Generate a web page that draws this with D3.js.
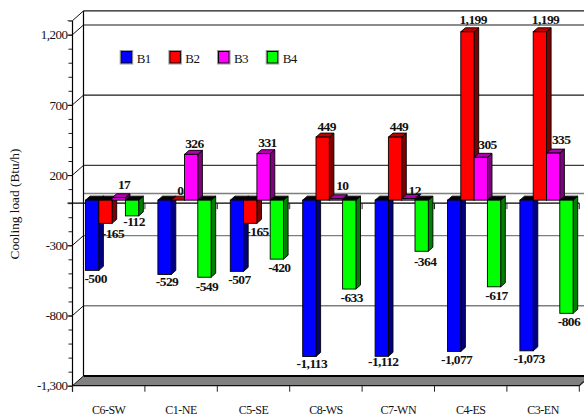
<!DOCTYPE html>
<html>
<head>
<meta charset="utf-8">
<script src="https://cdn.jsdelivr.net/npm/d3@7"></script>
<style>
  html, body { margin: 0; padding: 0; background: #fff; overflow: hidden; }
  svg { display: block; }
  text { font-family: "Liberation Serif", "Times New Roman", serif; fill: #111; }
</style>
</head>
<body>
<svg id="chart" width="584" height="417"></svg>
<script>
// Cooling load by building case and orientation
const categories = ["C6-SW", "C1-NE", "C5-SE", "C8-WS", "C7-WN", "C4-ES", "C3-EN"];
const seriesNames = ["B1", "B2", "B3", "B4"];
const b1 = [-500, -529, -507, -1113, -1112, -1077, -1073];
const b2 = [-165, 0, -165, 449, 449, 1199, 1199];
const b3 = [17, 326, 331, 10, 12, 305, 335];
const b4 = [-112, -549, -420, -633, -364, -617, -806];
const seriesValues = [b1, b2, b3, b4];
const yMajorTicks = [-1300, -800, -300, 200, 700, 1200];
const yMinorTicks = d3.range(-1300, 1301, 100);

const frontColors = ["#0000ff", "#ff0000", "#ff00ff", "#00ff00"];
const sideColors = ["#000080", "#800000", "#800080", "#008000"];
const capColors = ["#0000b0", "#c00000", "#b000b0", "#00b000"];

// Oblique projection of the chart box
const wallDx = 11, wallDy = -9.7;
const frontLeft = 72.5, frontRight = 579.3;
const barLift = 3, groupInset = 13, groupWidth = 53.2;
const barDepthX = 4.6, barDepthY = 4;

const svg = d3.select("#chart");
const y = d3.scaleLinear().domain([-1300, 1300]).range([385.7, 20.6]);
const x = d3.scaleBand().domain(categories).range([frontLeft, frontRight]);
const xBar = d3.scaleBand().domain(seriesNames).range([0, groupWidth]);
// Plain hyphen for negatives, thousands separated by commas
const fmt = d3.formatLocale({ decimal: ".", thousands: ",", grouping: [3], currency: ["", ""], minus: "-" }).format(",");

// Back wall grid lines, darker above the zero plane
const gridColor = v => v >= 700 ? "#1a1a1a" : v === 200 ? "#3c3c3c" : "#7e7e7e";
const gridWidth = v => v > 0 ? 1.1 : 1.4;
svg.append("g").selectAll("line")
  .data(yMajorTicks.filter(v => v > -1300).concat([1300, 0]))
  .join("line")
  .attr("x1", frontLeft + wallDx).attr("x2", 584)
  .attr("y1", d => y(d) + wallDy).attr("y2", d => y(d) + wallDy)
  .attr("stroke", gridColor)
  .attr("stroke-width", gridWidth);

// Floor
const floorBackY = y(-1300) + wallDy;
svg.append("path")
  .attr("d", `M${frontLeft},${y(-1300)}L${frontLeft + wallDx},${floorBackY}L590,${floorBackY}L${frontRight},${y(-1300)}Z`)
  .attr("fill", "#808080");
svg.append("line")
  .attr("x1", frontLeft + wallDx).attr("x2", 584)
  .attr("y1", floorBackY).attr("y2", floorBackY)
  .attr("stroke", "#000").attr("stroke-width", 2);
svg.append("path")
  .attr("d", `M${frontLeft},${y(-1300)}L${frontRight},${y(-1300)}L584,${y(-1300) - 4.2}`)
  .attr("fill", "none").attr("stroke", "#111").attr("stroke-width", 1.2);

// Left side wall
svg.append("line")
  .attr("x1", frontLeft + wallDx).attr("x2", frontLeft + wallDx)
  .attr("y1", y(1300) + wallDy).attr("y2", floorBackY)
  .attr("stroke", "#000").attr("stroke-width", 1.2);
svg.append("g").selectAll("line")
  .data(yMajorTicks.concat([1300]))
  .join("line")
  .attr("x1", frontLeft).attr("x2", frontLeft + wallDx)
  .attr("y1", d => y(d)).attr("y2", d => y(d) + wallDy)
  .attr("stroke", "#111").attr("stroke-width", 1);

// Zero line with its short category ticks
svg.append("line")
  .attr("x1", frontLeft - 5).attr("x2", frontRight)
  .attr("y1", y(0)).attr("y2", y(0))
  .attr("stroke", "#000").attr("stroke-width", 1.2);
const boundaries = categories.map(c => x(c)).concat([frontRight]);
svg.append("g").selectAll("line")
  .data(boundaries.slice(1))
  .join("line")
  .attr("x1", d => d).attr("x2", d => d)
  .attr("y1", y(0)).attr("y2", y(0) + 6)
  .attr("stroke", "#222").attr("stroke-width", 1);
svg.append("g").selectAll("line")
  .data(boundaries.slice(1))
  .join("line")
  .attr("x1", d => d - 1).attr("x2", d => d - 1)
  .attr("y1", y(0) + 1).attr("y2", y(0) + 6)
  .attr("stroke", "#aaa").attr("stroke-width", 1);

// Front axis drawn through d3.axisLeft, major ticks longer than minor ones
const axisY = svg.append("g").attr("transform", `translate(${frontLeft},0)`)
  .call(d3.axisLeft(y).tickValues(yMinorTicks).tickSize(4).tickFormat(""));
axisY.selectAll("line").attr("stroke", "#222");
axisY.select(".domain").remove();
svg.append("g").attr("transform", `translate(${frontLeft},0)`)
  .call(d3.axisLeft(y).tickValues(yMajorTicks).tickSize(5).tickPadding(0).tickFormat(fmt))
  .call(g => g.select(".domain").remove())
  .call(g => g.selectAll("line").attr("stroke", "#111"))
  .call(g => g.selectAll("text")
    .attr("font-family", null).attr("font-size", 13).attr("letter-spacing", -0.5)
    .attr("fill", "#111").attr("dy", "0.32em"));
svg.append("line")
  .attr("x1", frontLeft).attr("x2", frontLeft)
  .attr("y1", y(1300)).attr("y2", y(-1300) + 6)
  .attr("stroke", "#000").attr("stroke-width", 1.2);
svg.append("line")
  .attr("x1", frontLeft - 5).attr("x2", frontLeft)
  .attr("y1", y(1300)).attr("y2", y(1300))
  .attr("stroke", "#555");

// Category axis below the floor
svg.append("g").attr("transform", `translate(0,${y(-1300)})`)
  .call(d3.axisBottom(x).tickSize(0).tickPadding(20))
  .call(g => g.select(".domain").remove())
  .call(g => g.selectAll("text").attr("font-family", null).attr("font-size", 12)
    .attr("letter-spacing", -0.5).attr("fill", "#111"));
svg.append("g").selectAll("line")
  .data(boundaries)
  .join("line")
  .attr("x1", d => d).attr("x2", d => d)
  .attr("y1", y(-1300)).attr("y2", y(-1300) + 6)
  .attr("stroke", "#222").attr("stroke-width", 1);

// Y axis title
svg.append("text")
  .attr("transform", "translate(19,204) rotate(-90)")
  .attr("text-anchor", "middle")
  .attr("font-size", 13.3)
  .text("Cooling load (Btu/h)");

// Bars as extruded boxes
const barRecords = seriesNames.flatMap((s, si) =>
  categories.map((c, ci) => {
    const x0 = x(c) + groupInset + xBar(s);
    const x1 = x0 + xBar.bandwidth();
    const v = seriesValues[si][ci];
    return { si, ci, v, x0, x1, yZero: y(0) - barLift, yVal: y(v) - barLift };
  }));

const barGroups = svg.append("g").selectAll("g")
  .data(seriesNames)
  .join("g");
barGroups.each(function (s, si) {
  const g = d3.select(this);
  const recs = barRecords.filter(r => r.si === si);
  const top = r => Math.min(r.yZero, r.yVal);
  const bottom = r => Math.max(r.yZero, r.yVal);
  g.selectAll(".side").data(recs).join("path").attr("class", "side")
    .attr("d", r => `M${r.x1},${top(r)}L${r.x1 + barDepthX},${top(r) - barDepthY}L${r.x1 + barDepthX},${bottom(r) - barDepthY}L${r.x1},${bottom(r)}Z`)
    .attr("fill", sideColors[si]).attr("stroke", "#000").attr("stroke-width", 0.9);
  g.selectAll(".cap").data(recs).join("path").attr("class", "cap")
    .attr("d", r => `M${r.x0},${top(r)}L${r.x0 + barDepthX},${top(r) - barDepthY}L${r.x1 + barDepthX},${top(r) - barDepthY}L${r.x1},${top(r)}Z`)
    .attr("fill", r => r.v < 0 ? "#000" : capColors[si]).attr("stroke", "#000").attr("stroke-width", 0.9);
  g.selectAll(".front").data(recs.filter(r => r.v !== 0)).join("rect").attr("class", "front")
    .attr("x", r => r.x0).attr("width", r => r.x1 - r.x0)
    .attr("y", top).attr("height", r => bottom(r) - top(r))
    .attr("fill", frontColors[si]).attr("stroke", "#000").attr("stroke-width", 0.9);
});

// Value labels; some are pushed aside where neighbouring bars crowd them
const labelNudges = {
  "0,0": [1, 0], "1,0": [5, 2], "1,2": [4.8, 0], "3,0": [-0.5, -3], "0,4": [-1, -3], "3,4": [1, 2],
  "0,1": [0, -1], "3,1": [0, 1], "0,3": [0, -1], "0,6": [0, -1],
  "2,0": [1.3, -2], "1,1": [-1.5, 1], "2,1": [-0.7, 0], "2,3": [2.4, -2], "2,4": [2.3, 3],
  "1,5": [1.7, -1], "1,6": [1.7, -1], "2,5": [2.8, -1.5], "2,6": [4, -3]
};
const nudge = r => labelNudges[`${r.si},${r.ci}`] || [0, 0];
svg.append("g").selectAll("text")
  .data(barRecords)
  .join("text")
  .attr("text-anchor", "middle")
  .attr("dominant-baseline", "central")
  .attr("font-size", 13.5)
  .attr("letter-spacing", -0.6)
  .attr("font-weight", "bold")
  .attr("x", r => (r.x0 + r.x1) / 2 + (r.v < 0 ? 2.5 : 4) + nudge(r)[0])
  .attr("y", r => r.yVal + (r.v < 0 ? 8.5 : -11) + nudge(r)[1])
  .text(r => fmt(r.v));

// Legend
const legendX = d3.scalePoint().domain(seriesNames).range([120.7, 266.7]);
const legend = svg.append("g").selectAll("g")
  .data(seriesNames)
  .join("g")
  .attr("transform", d => `translate(${legendX(d)},51)`);
legend.append("rect")
  .attr("x", -0.5).attr("y", -0.5).attr("width", 12.5).attr("height", 13.5)
  .attr("fill", "none").attr("stroke", "#999").attr("stroke-width", 1);
legend.append("rect")
  .attr("x", 0.5).attr("y", 0.5).attr("width", 10.5).attr("height", 11.5)
  .attr("fill", (d, i) => frontColors[i]).attr("stroke", "#000").attr("stroke-width", 1);
legend.append("text")
  .attr("x", 16).attr("y", 12.4)
  .attr("font-size", 13)
  .attr("letter-spacing", -0.6)
  .text(d => d);
</script>
</body>
</html>
